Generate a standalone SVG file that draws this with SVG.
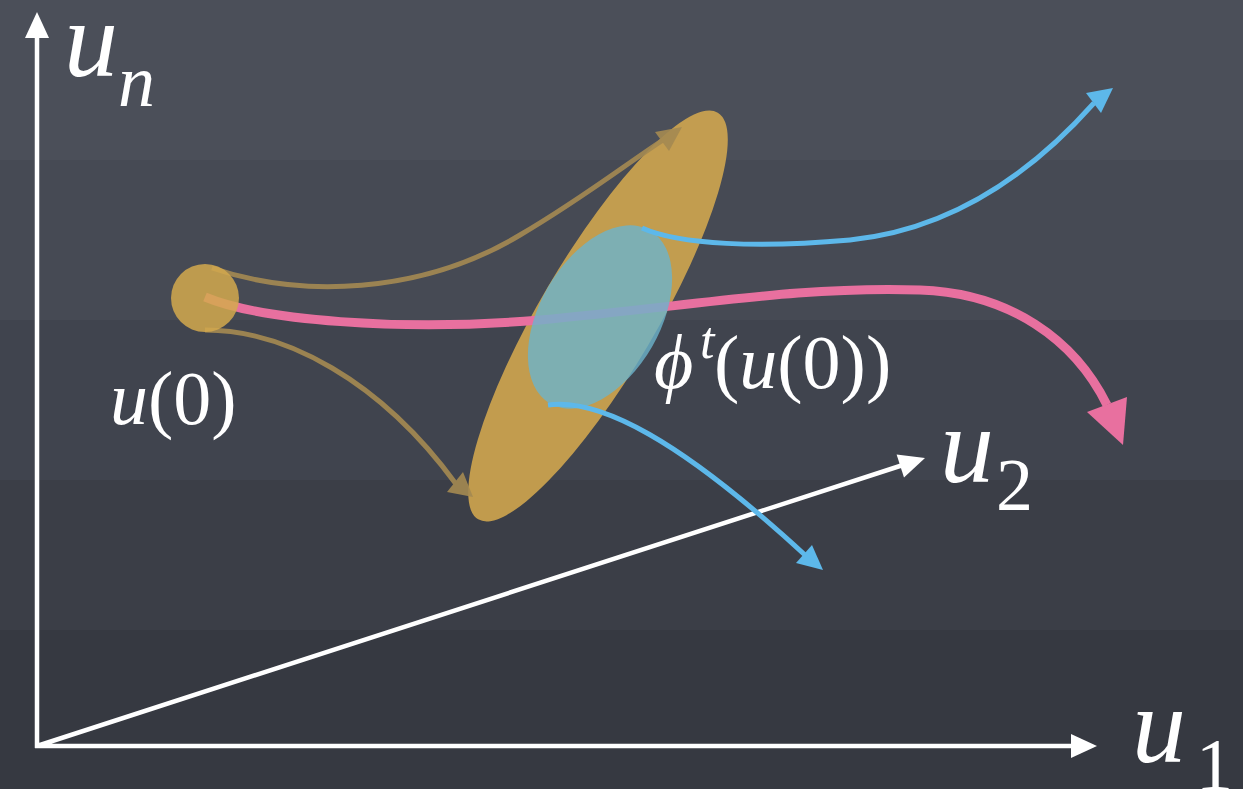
<svg xmlns="http://www.w3.org/2000/svg" width="1243" height="789" viewBox="0 0 1243 789">
<rect width="1243" height="789" fill="#40444e"/>
<rect width="1243" height="320" fill="#ffffff" opacity="0.035"/>
<rect width="1243" height="160" fill="#ffffff" opacity="0.03"/>
<rect y="480" width="1243" height="309" fill="#000000" opacity="0.08"/>
<rect y="630" width="1243" height="159" fill="#000000" opacity="0.08"/>
<g id="axes" fill="#ffffff">
<path d="M37,748 L37,36 M35,746 L1073,746 M37,746 L903,465" stroke="#ffffff" stroke-width="4.5" fill="none"/>
<polygon points="37,12 25,38 49,38"/>
<polygon points="1097,746 1071,734 1071,758"/>
<polygon points="925,458 896.6,454.6 904,477.4"/>
</g>
<g id="labels" fill="#ffffff" font-family="Liberation Serif, Times New Roman, serif">
<text x="64" y="76" font-size="108" font-style="italic">u</text>
<text x="118" y="106" font-size="74" font-style="italic">n</text>
<text x="940" y="482" font-size="108" font-style="italic">u</text>
<text x="996" y="510" font-size="74">2</text>
<text x="1132" y="762" font-size="108" font-style="italic">u</text>
<text x="1196" y="790" font-size="74">1</text>
<text x="110" y="424" font-size="76" font-style="italic">u</text>
<text x="148" y="424" font-size="76">(0)</text>
<text x="654" y="388" font-size="76" font-style="italic">ϕ</text>
<text x="700" y="358" font-size="52" font-style="italic">t</text>
<text x="714" y="388" font-size="76">(<tspan font-style="italic">u</tspan>(0))</text>
</g>
<g id="yellow-ellipse">
<ellipse cx="598" cy="316" rx="236" ry="58" transform="rotate(-59.5 598 316)" fill="#d4a94e" opacity="0.88"/>
</g>
<g id="connectors">
<g id="flows" opacity="0.9">
<path d="M212,268 C300,298 420,295 520,235 C580,200 625,165 663,140" stroke="#a58a52" stroke-width="5" fill="none"/>
<polygon points="682,127 655,132 669,151" fill="#a58a52"/>
<path d="M205,330 C285,330 380,380 456,484" stroke="#a58a52" stroke-width="5" fill="none"/>
<polygon points="473,497 447,492 463,472" fill="#a58a52"/>
</g>
<g id="pink">
<path d="M205,297 C260,320 400,332 540,320 C700,305 800,286 920,290 C1010,293 1075,340 1107,405" stroke="#e8709f" stroke-width="9" fill="none"/>
<polygon points="1123,445 1087,412 1127,397" fill="#e8709f"/>
</g>
</g>
<g id="start">
<circle cx="205" cy="298" r="34" fill="#d4a94e" opacity="0.85"/>
</g>
<g id="blue-ellipse">
<ellipse cx="600" cy="317" rx="100" ry="60" transform="rotate(-60 600 317)" fill="#6cb4cc" opacity="0.8"/>
</g>
<g id="blue-connectors" fill="#5db8ea">
<path d="M642,228 C680,245 760,248 850,240 C950,230 1030,175 1094,103" stroke="#5db8ea" stroke-width="5" fill="none"/>
<polygon points="1113,88 1086,93 1101,113"/>
<path d="M548,405 C600,398 680,440 805,555" stroke="#5db8ea" stroke-width="5" fill="none"/>
<polygon points="823,570 796,563 812,545"/>
</g>
</svg>
